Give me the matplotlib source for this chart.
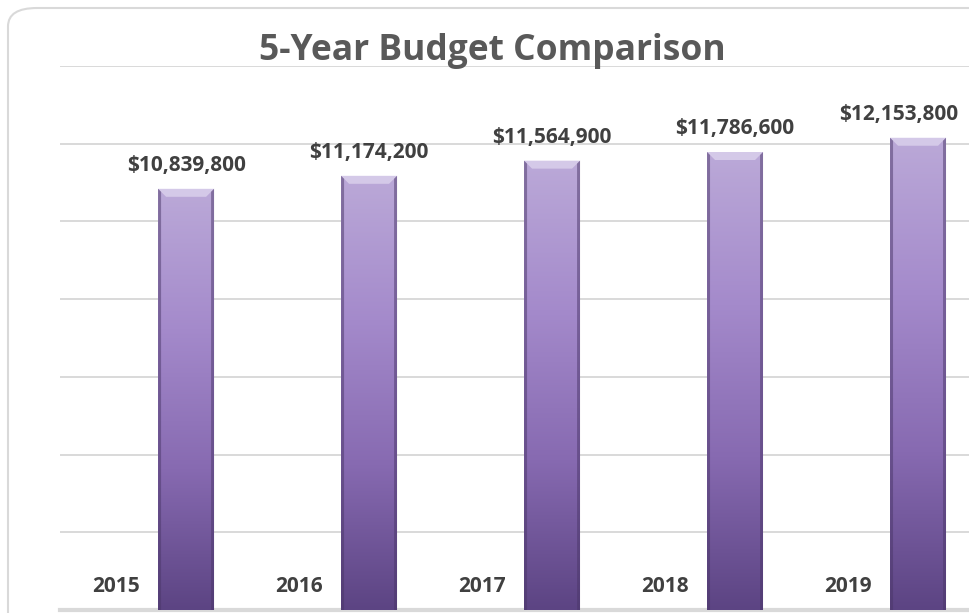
import numpy as np
import matplotlib.pyplot as plt
from matplotlib.patches import FancyBboxPatch, Polygon
from matplotlib.colors import LinearSegmentedColormap

years = ['2015', '2016', '2017', '2018', '2019']
budget = [10839800, 11174200, 11564900, 11786600, 12153800]

plt.rcParams['font.family'] = ['Open Sans', 'DejaVu Sans']

fig = plt.figure(figsize=(9.7, 6.13), dpi=100)

# rounded frame around the whole chart (runs off the right and bottom)
frame = FancyBboxPatch((8 / 970, -0.3), 1.2, 1.3 - 8 / 613, transform=fig.transFigure,
                       boxstyle='round,pad=0,rounding_size=0.03', fc='none',
                       ec='#d9d9d9', lw=1.5, zorder=10)
fig.patches.append(frame)

ax = fig.add_axes([60 / 970, 3 / 613, 910 / 970, 544 / 613])
ax.set_facecolor('none')
ax.set_xlim(-0.689, 4.284)
ax.set_ylim(0, 14e6)
ax.set_yticks(np.arange(0, 14e6 + 1, 2e6))
ax.yaxis.grid(True, color='#d9d9d9', lw=1.4)
ax.set_axisbelow(True)
ax.tick_params(left=False, bottom=False, labelleft=False, labelbottom=False)
for s in ['top', 'right', 'left']:
    ax.spines[s].set_visible(False)
ax.spines['bottom'].set_color('#d9d9d9')
ax.spines['bottom'].set_linewidth(3)

cmap = LinearSegmentedColormap.from_list('purp', ['#5c4483', '#876ab1', '#a48acb', '#bba9d8'])
grad = np.linspace(0, 1, 256).reshape(-1, 1)

w = 0.306
px_x = 1 / 183.0
px_y = 14e6 / 544.0
x = np.arange(len(years))
bars = ax.bar(x, budget, width=w, color='#9a80c0', edgecolor='none', zorder=2)

labels = []
for b, v in zip(bars, budget):
    x0 = b.get_x()
    x1 = x0 + b.get_width()
    im = ax.imshow(grad, cmap=cmap, origin='lower', aspect='auto',
                   extent=[x0, x1, 0, v], zorder=3)
    im.set_clip_path(b)
    # bevel: light top face and darker sides
    bev = 8
    ax.add_patch(Polygon([[x0, v], [x1, v], [x1 - bev * px_x, v - bev * px_y],
                          [x0 + bev * px_x, v - bev * px_y]],
                         closed=True, fc='#d8cdea', ec='none', alpha=0.9, zorder=4))
    ax.add_patch(Polygon([[x0, v], [x0 + 3 * px_x, v - 3 * px_y], [x0 + 3 * px_x, 0], [x0, 0]],
                         closed=True, fc='#4a3668', ec='none', alpha=0.5, zorder=4))
    ax.add_patch(Polygon([[x1, v], [x1 - 3 * px_x, v - 3 * px_y], [x1 - 3 * px_x, 0], [x1, 0]],
                         closed=True, fc='#4a3668', ec='none', alpha=0.5, zorder=4))
    t = ax.annotate('${:,}'.format(v), (b.get_x() + b.get_width() / 2, v),
                    xytext=(0, 13), textcoords='offset points', ha='center', va='baseline',
                    fontsize=15, fontweight='bold', color='#404040', zorder=5,
                    annotation_clip=False)
    labels.append(t)

# keep value labels inside the chart: shift left any that would run off the right side
fig.canvas.draw()
r = fig.canvas.get_renderer()
for t in labels:
    bb = t.get_window_extent(r)
    over = bb.x1 - 958
    if over > 0:
        t.xyann = (-over * 72 / fig.dpi, 13)

for i, yr in enumerate(years):
    ax.text(i - 0.383, 24 * px_y, yr, ha='center', va='center', fontsize=15,
            fontweight='bold', color='#404040', zorder=5)

fig.text(492 / 970, 1 - 51 / 613, '5-Year Budget Comparison', ha='center', va='center',
         fontsize=25.5, fontweight='bold', color='#595959')

fig.savefig('out.png', dpi=100)
